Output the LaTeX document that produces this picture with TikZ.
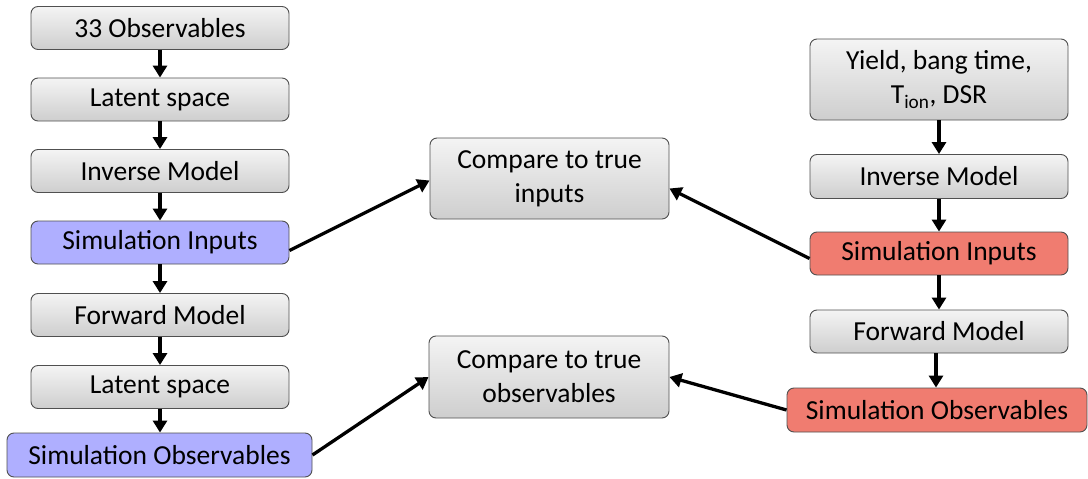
\documentclass[tikz,border=0pt]{standalone}
\usepackage{fontspec}
\setmainfont{Carlito}
\usetikzlibrary{arrows.meta}

\definecolor{boxline}{RGB}{80,80,80}
\definecolor{graytop}{RGB}{244,244,244}
\definecolor{graybot}{RGB}{206,206,206}
\definecolor{bluefill}{RGB}{175,175,255}
\definecolor{redfill}{RGB}{240,124,112}

\tikzset{
  box/.style={draw=boxline, line width=0.9pt, rounded corners=7pt,
    inner sep=0pt, align=center, text=black,
    font=\fontsize{27.5}{34}\selectfont},
  graybox/.style={box, top color=graytop, bottom color=graybot},
  bluebox/.style={box, fill=bluefill},
  redbox/.style={box, fill=redfill},
  arr/.style={line width=3.3pt, -{Triangle[width=14pt,length=12pt]}}
}

\begin{document}
\begin{tikzpicture}[x=1pt,y=-1pt]
\useasboundingbox (0,0) rectangle (1088,479);

% left chain
\node[graybox, minimum width=258pt, minimum height=43pt] (obs) at (160,28) {33 Observables};
\node[graybox, minimum width=258pt, minimum height=43pt] (lat1) at (160,99.5) {Latent space};
\node[graybox, minimum width=258pt, minimum height=43pt] (inv1) at (160,171) {Inverse Model};
\node[bluebox, minimum width=258pt, minimum height=43pt] (simin1) at (160,242.5) {Simulation Inputs};
\node[graybox, minimum width=258pt, minimum height=43pt] (fwd1) at (160,315) {Forward Model};
\node[graybox, minimum width=258pt, minimum height=43pt] (lat2) at (160,387) {Latent space};
\node[bluebox, minimum width=305pt, minimum height=44pt] (simobs1) at (159.5,455) {Simulation Observables};

% comparison boxes
\node[graybox, minimum width=239pt, minimum height=81pt] (cmpin) at (549.5,178.5) {Compare to true\\inputs};
\node[graybox, minimum width=240pt, minimum height=82pt] (cmpobs) at (549,377) {Compare to true\\observables};

% right chain
\node[graybox, minimum width=258pt, minimum height=81pt] (meas) at (939,79.5) {Yield, bang time,\\T\textsubscript{ion}, DSR};
\node[graybox, minimum width=258pt, minimum height=44pt] (inv2) at (939,176.5) {Inverse Model};
\node[redbox, minimum width=258pt, minimum height=43pt] (simin2) at (939,253.5) {Simulation Inputs};
\node[graybox, minimum width=258pt, minimum height=43pt] (fwd2) at (939,331.5) {Forward Model};
\node[redbox, minimum width=300pt, minimum height=44pt] (simobs2) at (937,410) {Simulation Observables};

% vertical flow
\draw[arr] (obs) -- (lat1);
\draw[arr] (lat1) -- (inv1);
\draw[arr] (inv1) -- (simin1);
\draw[arr] (simin1) -- (fwd1);
\draw[arr] (fwd1) -- (lat2);
\draw[arr] (lat2.south) -- (lat2.south |- simobs1.north);
\draw[arr] (meas) -- (inv2);
\draw[arr] (inv2) -- (simin2);
\draw[arr] (simin2) -- (fwd2);
\draw[arr] ([xshift=-3pt]fwd2.south) -- ([xshift=-3pt]fwd2.south |- simobs2.north);

% comparisons
\draw[arr] ([yshift=-8pt]simin1.east) -- ([yshift=-2pt]cmpin.west);
\draw[arr] ([yshift=-5pt]simin2.west) -- ([yshift=-10pt]cmpin.east);
\draw[arr] (simobs1.east) -- (cmpobs.west);
\draw[arr] (simobs2.west) -- (cmpobs.east);
\end{tikzpicture}
\end{document}
